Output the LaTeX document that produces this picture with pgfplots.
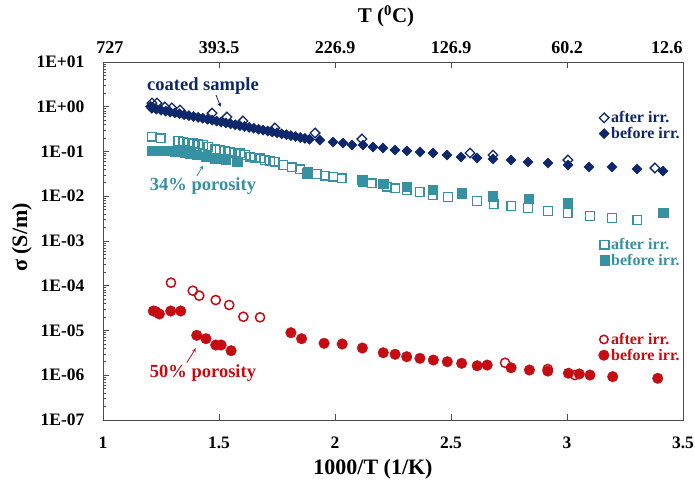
\documentclass[border=0pt]{standalone}
\usepackage{fontspec}
\setmainfont{Liberation Serif}
\usepackage{pgfplots}
\pgfplotsset{compat=1.18}
\definecolor{navy}{RGB}{14,38,106}
\definecolor{tealc}{RGB}{54,145,162}
\definecolor{redc}{RGB}{196,12,18}
\begin{document}
\begin{tikzpicture}
\useasboundingbox (-103pt,-63pt) rectangle (592pt,420pt);
% ---------- main axis: coated sample ----------
\begin{axis}[scale only axis, width=580pt, height=358pt,
  xmin=1, xmax=3.5, ymin=1e-7, ymax=10, ymode=log, clip=false,
  axis line style={black!70, line width=0.9pt},
  tick style={black!70, line width=0.8pt},
  tick align=inside, xtick pos=both, ytick pos=left,
  major tick length=6pt, minor tick length=3pt,
  xtick={1,1.5,2,2.5,3,3.5}, xticklabels={1,1.5,2,2.5,3,3.5},
  ytick={1e-7,1e-6,1e-5,1e-4,1e-3,1e-2,1e-1,1,10},
  yticklabels={1E-07,1E-06,1E-05,1E-04,1E-03,1E-02,1E-01,1E+00,1E+01},
  minor ytick={2e-7,3e-7,4e-7,5e-7,6e-7,7e-7,8e-7,9e-7,
    2e-6,3e-6,4e-6,5e-6,6e-6,7e-6,8e-6,9e-6,
    2e-5,3e-5,4e-5,5e-5,6e-5,7e-5,8e-5,9e-5,
    2e-4,3e-4,4e-4,5e-4,6e-4,7e-4,8e-4,9e-4,
    2e-3,3e-3,4e-3,5e-3,6e-3,7e-3,8e-3,9e-3,
    0.02,0.03,0.04,0.05,0.06,0.07,0.08,0.09,
    0.2,0.3,0.4,0.5,0.6,0.7,0.8,0.9,
    2,3,4,5,6,7,8,9},
  ticklabel style={font=\bfseries\fontsize{17.5}{20}\selectfont},
  yticklabel style={xshift=-15pt},
  xticklabel style={yshift=-13pt},
  xlabel={1000/T (1/K)}, ylabel={σ (S/m)},
  xlabel style={font=\bfseries\fontsize{22}{24}\selectfont, at={(axis description cs:0.4655,-0.138)}, anchor=center},
  ylabel style={font=\bfseries\fontsize{22}{24}\selectfont, at={(axis description cs:-0.140,0.51)}, anchor=center},
  legend style={at={(0.998,0.868)}, anchor=north east, draw=none, fill=none,
    font=\bfseries\fontsize{16}{17}\selectfont, text=navy, inner sep=0pt, row sep=-1pt},
  legend cell align=left,
]
\addplot[only marks, mark=square*, mark size=3.6pt, mark options={rotate=45, draw=navy, fill=navy}, forget plot] coordinates {
(1.205,1.02)(1.215,0.97)(1.21,0.922)(1.23,0.881)(1.25,0.840)(1.27,0.801)(1.29,0.765)(1.31,0.730)(1.33,0.697)(1.35,0.665)(1.37,0.634)(1.39,0.605)(1.41,0.578)(1.43,0.551)(1.45,0.526)(1.47,0.502)(1.49,0.479)(1.51,0.457)(1.53,0.436)(1.55,0.416)(1.57,0.397)(1.59,0.379)(1.61,0.362)(1.63,0.345)(1.65,0.330)(1.67,0.315)(1.69,0.300)(1.71,0.286)(1.73,0.273)(1.75,0.261)(1.77,0.249)(1.79,0.238)(1.81,0.227)(1.83,0.216)(1.85,0.206)(1.87,0.197)(1.89,0.188)(1.935,0.180)(1.991,0.163)(2.034,0.155)(2.073,0.140)(2.121,0.140)(2.164,0.126)(2.207,0.120)(2.259,0.108)(2.310,0.103)(2.366,0.0975)(2.422,0.0925)(2.483,0.0835)(2.543,0.0754)(2.612,0.0716)(2.681,0.068)(2.759,0.0646)(2.832,0.058)(2.918,0.0553)(3.004,0.0499)(3.095,0.045)(3.194,0.045)(3.302,0.0407)(3.414,0.0367)
};
\addplot[only marks, mark=square, mark size=3.4pt, mark options={rotate=45, draw=navy, fill=white, line width=1.3pt}, forget plot] coordinates {
(1.211,1.21)(1.233,1.21)(1.267,0.99)(1.297,0.94)(1.332,0.845)(1.470,0.72)(1.534,0.59)(1.603,0.48)(1.741,0.335)(1.914,0.259)(2.116,0.19)(2.582,0.0925)(2.681,0.0835)(3.004,0.0645)(3.379,0.0428)
};
\addlegendimage{only marks, mark=square, mark size=3.4pt, mark options={rotate=45, draw=navy, fill=white, line width=1.3pt}}
\addlegendentry{after irr.}
\addlegendimage{only marks, mark=square*, mark size=3.6pt, mark options={rotate=45, draw=navy, fill=navy}}
\addlegendentry{before irr.}
\node[font=\bfseries\fontsize{18.5}{20}\selectfont, text=navy, anchor=base] at (axis cs:1.431,2.29) {coated sample};
\draw[navy, line width=0.8pt, -stealth] (axis cs:1.487,1.83) -- (axis cs:1.507,1.0);
\node[font=\bfseries\fontsize{18.5}{20}\selectfont, text=tealc, anchor=base] at (axis cs:1.431,0.0133) {34\% porosity};
\draw[tealc, line width=0.8pt, -stealth] (axis cs:1.405,0.0284) -- (axis cs:1.431,0.0486);
\node[font=\bfseries\fontsize{18.5}{20}\selectfont, text=redc, anchor=base] at (axis cs:1.431,9.1e-7) {50\% porosity};
\draw[redc, line width=0.8pt, -stealth] (axis cs:1.361,1.91e-6) -- (axis cs:1.40,4.0e-6);
\end{axis}
% ---------- 34% porosity ----------
\begin{axis}[scale only axis, width=580pt, height=358pt,
  xmin=1, xmax=3.5, ymin=1e-7, ymax=10, ymode=log, clip=false, hide axis,
  legend style={at={(0.998,0.514)}, anchor=north east, draw=none, fill=none,
    font=\bfseries\fontsize{16}{17}\selectfont, text=tealc, inner sep=0pt, row sep=-1pt},
  legend cell align=left,
]
\addplot[only marks, mark=square*, mark size=4.7pt, mark options={draw=tealc, fill=tealc}, forget plot] coordinates {
(1.210,0.104)(1.231,0.104)(1.253,0.104)(1.289,0.104)(1.310,0.1026)(1.332,0.099)(1.353,0.096)(1.375,0.0912)(1.404,0.0836)(1.444,0.0766)(1.483,0.0705)(1.530,0.0646)(1.579,0.0592)(1.878,0.0326)(2.118,0.0231)(2.208,0.0188)(2.309,0.0163)(2.422,0.0138)(2.547,0.0118)(2.681,0.0101)(2.836,0.0087)(3.004,0.00707)(3.414,0.00423)
};
\addplot[only marks, mark=square, mark size=4.3pt, mark options={draw=tealc, fill=white, line width=1.5pt}, forget plot] coordinates {
(1.210,0.214)(1.249,0.197)(1.325,0.172)(1.346,0.166)(1.368,0.157)(1.389,0.153)(1.411,0.145)(1.432,0.140)(1.454,0.128)(1.483,0.112)(1.504,0.108)(1.526,0.104)(1.547,0.099)(1.569,0.094)(1.591,0.0912)(1.612,0.0836)(1.634,0.0766)(1.655,0.0727)(1.677,0.0705)(1.698,0.0646)(1.720,0.0613)(1.741,0.0592)(1.777,0.0499)(1.813,0.0443)(1.849,0.040)(1.885,0.0354)(1.921,0.0314)(1.957,0.0288)(1.993,0.0273)(2.029,0.0252)(2.122,0.0211)(2.158,0.0195)(2.223,0.0163)(2.259,0.0151)(2.309,0.0138)(2.366,0.01245)(2.422,0.01067)(2.487,0.0096)(2.612,0.00783)(2.685,0.00671)(2.759,0.00605)(2.832,0.00546)(2.918,0.00468)(3.004,0.00422)(3.099,0.00362)(3.194,0.00327)(3.302,0.00294)
};
\addlegendimage{only marks, mark=square, mark size=4.3pt, mark options={draw=tealc, fill=white, line width=1.5pt}}
\addlegendentry{after irr.}
\addlegendimage{only marks, mark=square*, mark size=4.7pt, mark options={draw=tealc, fill=tealc}}
\addlegendentry{before irr.}
\end{axis}
% ---------- 50% porosity ----------
\begin{axis}[scale only axis, width=580pt, height=358pt,
  xmin=1, xmax=3.5, ymin=1e-7, ymax=10, ymode=log, clip=false, hide axis,
  legend style={at={(0.998,0.249)}, anchor=north east, draw=none, fill=none,
    font=\bfseries\fontsize{16}{17}\selectfont, text=redc, inner sep=0pt, row sep=-1pt},
  legend cell align=left,
]
\addplot[only marks, mark=*, mark size=5.3pt, mark options={draw=redc, fill=redc}, forget plot] coordinates {
(1.217,2.73e-5)(1.228,2.63e-5)(1.243,2.34e-5)(1.292,2.73e-5)(1.335,2.73e-5)(1.404,7.8e-6)(1.444,6.56e-6)(1.486,4.74e-6)(1.509,4.74e-6)(1.552,3.54e-6)(1.810,8.93e-6)(1.856,6.56e-6)(1.953,5.18e-6)(2.031,4.99e-6)(2.118,4.06e-6)(2.208,3.19e-6)(2.259,2.94e-6)(2.309,2.60e-6)(2.366,2.39e-6)(2.424,2.19e-6)(2.484,2.01e-6)(2.546,1.85e-6)(2.613,1.63e-6)(2.656,1.69e-6)(2.759,1.47e-6)(2.838,1.31e-6)(2.917,1.24e-6)(3.006,1.11e-6)(3.053,1.07e-6)(3.099,1.01e-6)(3.197,9.3e-7)(3.391,8.55e-7)
};
\addplot[only marks, mark=o, mark size=4.6pt, mark options={draw=redc, fill=white, line width=1.5pt}, forget plot] coordinates {
(1.293,1.17e-4)(1.387,7.75e-5)(1.415,6.0e-5)(1.486,4.8e-5)(1.544,3.72e-5)(1.605,2.03e-5)(1.677,1.97e-5)(2.733,1.9e-6)(2.917,1.38e-6)(3.034,1.01e-6)
};
\addlegendimage{only marks, mark=o, mark size=4.2pt, mark options={draw=redc, fill=white, line width=1.5pt}}
\addlegendentry{after irr.}
\addlegendimage{only marks, mark=*, mark size=5.3pt, mark options={draw=redc, fill=redc}}
\addlegendentry{before irr.}
\end{axis}
% ---------- top temperature axis ----------
\begin{axis}[scale only axis, width=580pt, height=358pt,
  xmin=1, xmax=3.5, ymin=1e-7, ymax=10, ymode=log,
  axis x line*=top, axis y line=none,
  axis line style={draw=none}, major tick length=0pt,
  xtick={1.03,1.5,2,2.5,3,3.43},
  xticklabels={727,393.5,226.9,126.9,60.2,12.6},
  ticklabel style={font=\bfseries\fontsize{18}{20}\selectfont},
  xticklabel style={yshift=5pt},
  xlabel={T (\textsuperscript{0}C)},
  xlabel style={font=\bfseries\fontsize{21}{23}\selectfont, at={(axis description cs:0.488,1.128)}, anchor=center},
]
\addplot[draw=none, forget plot] coordinates {(2,1)};
\end{axis}
\end{tikzpicture}
\end{document}
